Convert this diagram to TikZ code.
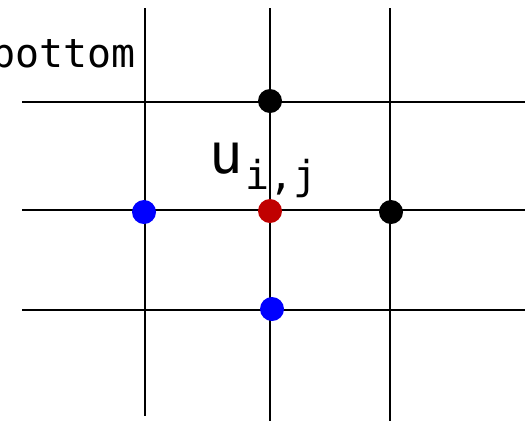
\documentclass[tikz,border=0pt]{standalone}
\usepackage{fontspec}
\setmonofont{DejaVu Sans Mono}
\definecolor{dotred}{HTML}{C00000}
\definecolor{dotblue}{HTML}{0000FF}
\tikzset{
  gridline/.style={line width=2bp, black},
  gpt/.style={circle, inner sep=0pt, minimum size=24bp},
  lbl/.style={inner sep=0pt, font=\ttfamily}
}
\begin{document}
\begin{tikzpicture}[x=1bp,y=-1bp]
\useasboundingbox (0,0) rectangle (525,421);
% grid line end points
\coordinate (v1t) at (145,8);   \coordinate (v1b) at (145,416);
\coordinate (v2t) at (270,8);   \coordinate (v2b) at (270,421);
\coordinate (v3t) at (390,8);   \coordinate (v3b) at (390,421);
\coordinate (h1l) at (22,102);  \coordinate (h1r) at (525,102);
\coordinate (h2l) at (22,210);  \coordinate (h2r) at (525,210);
\coordinate (h3l) at (22,310);  \coordinate (h3r) at (525,310);
\draw[gridline] (v1t) -- (v1b);
\draw[gridline] (v2t) -- (v2b);
\draw[gridline] (v3t) -- (v3b);
\draw[gridline] (h1l) -- (h1r);
\draw[gridline] (h2l) -- (h2r);
\draw[gridline] (h3l) -- (h3r);
% points
\node[gpt, fill=black]    (top)    at (270,101) {};
\node[gpt, fill=dotred]   (center) at (270,211) {};
\node[gpt, fill=black]    (right)  at (391,212) {};
\node[gpt, fill=dotblue]  (left)   at (144,212) {};
\node[gpt, fill=dotblue]  (bottom) at (272,309) {};
% labels
\node[lbl, anchor=base east, font=\ttfamily\fontsize{40}{44}\selectfont] (lblbottom) at (136,67) {bottom};
\node[lbl, anchor=base west, font=\ttfamily\fontsize{56}{60}\selectfont] (lblu) at (209,173) {u};
\node[lbl, anchor=base west, font=\ttfamily\fontsize{40}{44}\selectfont] (lblij) at (245,189) {i,j};
\end{tikzpicture}
\end{document}
